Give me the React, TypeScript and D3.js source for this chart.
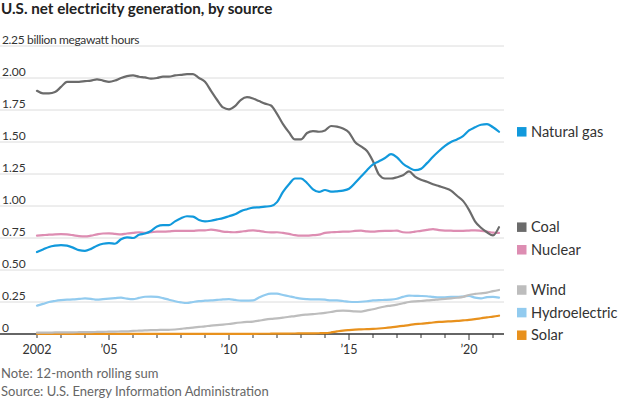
import React from "react";
import * as d3 from "d3";

const years: number[] = d3.range(0, 78).map((i) => 2002 + i * 0.25);

const coal = [
  1.90, 1.88, 1.88, 1.89, 1.93, 1.97, 1.97, 1.97, 1.975, 1.98, 1.99, 1.98,
  1.97, 1.98, 2.00, 2.015, 2.02, 2.01, 2.005, 1.995, 2.00, 2.01, 2.01, 2.02,
  2.025, 2.03, 2.03, 2.00, 1.97, 1.90, 1.83, 1.77, 1.755, 1.78, 1.83, 1.85,
  1.84, 1.82, 1.80, 1.785, 1.72, 1.64, 1.575, 1.52, 1.52, 1.57, 1.585, 1.58,
  1.59, 1.625, 1.62, 1.605, 1.575, 1.50, 1.465, 1.43, 1.35, 1.245, 1.215, 1.215,
  1.225, 1.24, 1.27, 1.23, 1.205, 1.19, 1.17, 1.155, 1.14, 1.12, 1.08, 1.04,
  0.97, 0.88, 0.83, 0.795, 0.77, 0.835,
];

const naturalGas = [
  0.64, 0.66, 0.68, 0.69, 0.695, 0.69, 0.675, 0.655, 0.65, 0.665, 0.69, 0.705,
  0.71, 0.705, 0.74, 0.755, 0.75, 0.775, 0.785, 0.805, 0.84, 0.85, 0.85, 0.88,
  0.905, 0.92, 0.917, 0.89, 0.88, 0.885, 0.895, 0.905, 0.92, 0.935, 0.96, 0.975,
  0.987, 0.99, 0.995, 1.0, 1.03, 1.11, 1.17, 1.215, 1.215, 1.18, 1.13, 1.11,
  1.125, 1.112, 1.115, 1.12, 1.135, 1.18, 1.23, 1.28, 1.325, 1.35, 1.375, 1.405,
  1.38, 1.33, 1.30, 1.28, 1.29, 1.335, 1.385, 1.43, 1.47, 1.50, 1.52, 1.545,
  1.59, 1.615, 1.635, 1.64, 1.615, 1.58,
];

const nuclear = [
  0.768, 0.772, 0.776, 0.779, 0.78, 0.778, 0.772, 0.765, 0.762, 0.768, 0.778, 0.785,
  0.786, 0.782, 0.778, 0.785, 0.79, 0.795, 0.79, 0.795, 0.80, 0.80, 0.802, 0.806,
  0.806, 0.805, 0.806, 0.81, 0.81, 0.815, 0.81, 0.80, 0.797, 0.795, 0.80, 0.806,
  0.81, 0.805, 0.797, 0.794, 0.795, 0.79, 0.782, 0.772, 0.768, 0.768, 0.772, 0.776,
  0.79, 0.795, 0.797, 0.80, 0.80, 0.805, 0.807, 0.802, 0.80, 0.804, 0.806, 0.806,
  0.807, 0.795, 0.793, 0.80, 0.806, 0.814, 0.82, 0.812, 0.808, 0.807, 0.805, 0.806,
  0.808, 0.81, 0.806, 0.80, 0.792, 0.79,
];

const wind = [
  0.01, 0.011, 0.011, 0.012, 0.012, 0.013, 0.013, 0.014, 0.015, 0.015, 0.016, 0.017,
  0.018, 0.019, 0.02, 0.021, 0.024, 0.026, 0.028, 0.03, 0.031, 0.032, 0.033, 0.035,
  0.04, 0.046, 0.05, 0.055, 0.06, 0.066, 0.07, 0.073, 0.078, 0.085, 0.09, 0.094,
  0.097, 0.104, 0.112, 0.118, 0.122, 0.128, 0.135, 0.14, 0.148, 0.152, 0.155, 0.16,
  0.165, 0.172, 0.18, 0.182, 0.18, 0.176, 0.175, 0.185, 0.193, 0.205, 0.215, 0.222,
  0.23, 0.24, 0.25, 0.255, 0.258, 0.262, 0.266, 0.271, 0.275, 0.278, 0.283, 0.29,
  0.305, 0.313, 0.318, 0.323, 0.335, 0.344,
];

const hydroelectric = [
  0.221, 0.235, 0.25, 0.258, 0.264, 0.268, 0.27, 0.274, 0.278, 0.275, 0.268, 0.272,
  0.276, 0.28, 0.284, 0.276, 0.272, 0.282, 0.291, 0.292, 0.29, 0.28, 0.268, 0.256,
  0.247, 0.242, 0.25, 0.257, 0.26, 0.262, 0.266, 0.27, 0.273, 0.266, 0.26, 0.261,
  0.262, 0.285, 0.305, 0.315, 0.315, 0.305, 0.295, 0.285, 0.276, 0.272, 0.27, 0.27,
  0.268, 0.262, 0.262, 0.258, 0.252, 0.25, 0.252, 0.256, 0.262, 0.265, 0.266, 0.268,
  0.275, 0.29, 0.30, 0.298, 0.297, 0.295, 0.29, 0.286, 0.287, 0.29, 0.29, 0.293,
  0.297, 0.284, 0.278, 0.288, 0.29, 0.284,
];

const solar = [
  0.0005, 0.0005, 0.0005, 0.0005, 0.0005, 0.0005, 0.0005, 0.0005, 0.0005, 0.0005, 0.0005, 0.0005,
  0.0005, 0.0005, 0.0005, 0.0005, 0.0005, 0.0005, 0.0005, 0.0005, 0.0006, 0.0006, 0.0006, 0.0007,
  0.0008, 0.0008, 0.0009, 0.001, 0.001, 0.001, 0.0011, 0.0012, 0.0012, 0.0013, 0.0014, 0.0015,
  0.0016, 0.0018, 0.002, 0.0022, 0.0025, 0.003, 0.0035, 0.004, 0.0045, 0.005, 0.0055, 0.006,
  0.007, 0.012, 0.02, 0.027, 0.031, 0.034, 0.036, 0.038, 0.04, 0.043, 0.047, 0.052,
  0.058, 0.064, 0.07, 0.077, 0.08, 0.085, 0.09, 0.094, 0.097, 0.099, 0.102, 0.106,
  0.11, 0.116, 0.123, 0.13, 0.136, 0.143,
];

const yTicks = [0, 0.25, 0.5, 0.75, 1.0, 1.25, 1.5, 1.75, 2.0, 2.25];
const xTicks = d3.range(2002, 2022);
const xLabels: Record<number, string> = { 2002: "2002", 2005: "\u201905", 2010: "\u201910", 2015: "\u201915", 2020: "\u201920" };

const seriesNames = ["Natural gas", "Coal", "Nuclear", "Wind", "Hydroelectric", "Solar"];
const seriesValues = [naturalGas, coal, nuclear, wind, hydroelectric, solar];
const seriesColors = ["#1199dc", "#6b6b6b", "#dd8db2", "#bdbdbd", "#92cbef", "#e8911d"];
const drawOrder = [5, 4, 3, 2, 1, 0];

const W = 620;
const H = 400;
const FONT = "Lato, 'Open Sans', sans-serif";

export default function App() {
  const x = d3.scaleLinear().domain([2002, 2021]).range([37, 493]);
  const y = d3.scaleLinear().domain([0, 2.25]).range([334, 46]);
  const plotLeft = 0;
  const plotRight = 504;

  const line = d3
    .line<[number, number]>()
    .x((d) => x(d[0]))
    .y((d) => y(d[1]))
    .curve(d3.curveMonotoneX);

  const gap = 22.6;
  const legendY: number[] = [];
  let prev = -Infinity;
  seriesValues.forEach((vals, i) => {
    let ly = y(vals[vals.length - 1]);
    if (ly < prev + gap) ly = prev + gap;
    legendY[i] = ly;
    prev = ly;
  });

  return (
    <svg
      width={W}
      height={H}
      style={{ position: "absolute", left: 0, top: 0, background: "#fff" }}
      fontFamily={FONT}
    >
      <text x={1} y={14} fontSize={15.2} fontWeight={700} fill="#222">
        U.S. net electricity generation, by source
      </text>

      {yTicks.map((t) => (
        <g key={t}>
          {t > 0 && (
            <line x1={plotLeft} x2={plotRight} y1={y(t)} y2={y(t)} stroke="#dcdcdc" strokeWidth={1} />
          )}
          <text
            x={2}
            y={y(t) - 2.5}
            fontSize={12}
            fill="#333"
            letterSpacing={t === 2.25 ? -0.35 : 0}
          >
            {t === 0 ? "0" : t === 2.25 ? "2.25 billion megawatt hours" : d3.format(".2f")(t)}
          </text>
        </g>
      ))}

      <line x1={plotLeft} x2={plotRight} y1={y(0)} y2={y(0)} stroke="#333" strokeWidth={1.5} />
      {xTicks.map((t) => {
        const major = t % 5 === 0;
        return (
          <g key={t}>
            <line x1={x(t)} x2={x(t)} y1={y(0)} y2={y(0) + (major ? 6 : 4)} stroke="#333" strokeWidth={1} />
            {xLabels[t] && (
              <text x={x(t)} y={354} fontSize={12.5} fill="#333" textAnchor="middle">
                {xLabels[t]}
              </text>
            )}
          </g>
        );
      })}

      {drawOrder.map((i) => (
        <path
          key={seriesNames[i]}
          d={line(years.map((yr, k) => [yr, seriesValues[i][k]]) as [number, number][]) || ""}
          fill="none"
          stroke={seriesColors[i]}
          strokeWidth={2.2}
          strokeLinejoin="round"
          strokeLinecap="round"
        />
      ))}

      {seriesNames.map((name, i) => (
        <g key={name}>
          <rect x={517} y={legendY[i] - 4.7} width={9.5} height={9.5} fill={seriesColors[i]} />
          <text x={531} y={legendY[i] + 5.2} fontSize={14.6} fill="#333">
            {name}
          </text>
        </g>
      ))}

      <text x={1} y={378} fontSize={13} fill="#666">
        Note: 12-month rolling sum
      </text>
      <text x={1} y={396} fontSize={13} fill="#666">
        Source: U.S. Energy Information Administration
      </text>
    </svg>
  );
}
